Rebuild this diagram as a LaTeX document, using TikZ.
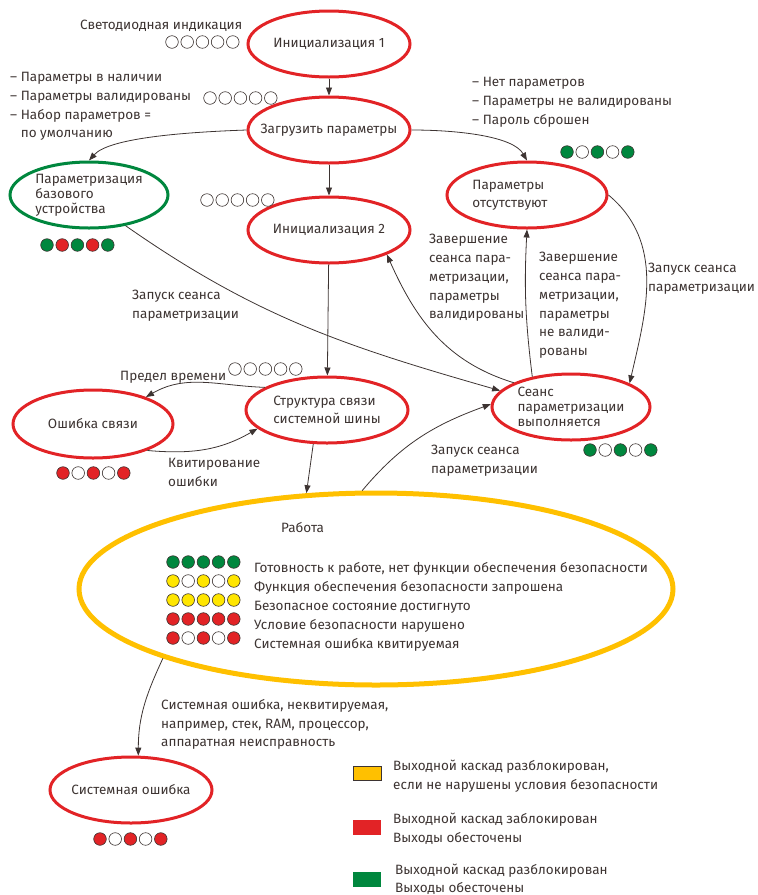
\documentclass[tikz,border=0pt]{standalone}
\usepackage{fontspec}
\setmainfont{Fira Sans}
\usetikzlibrary{shapes.geometric,arrows.meta}

\definecolor{txt}{RGB}{61,52,50}
\definecolor{stred}{RGB}{226,35,38}
\definecolor{stgreen}{RGB}{0,135,62}
\definecolor{styellow}{RGB}{255,192,0}
\definecolor{ledyellow}{RGB}{255,230,0}

\newcommand\ledrow[3]{%
  \foreach \col [count=\k from 0] in {#3}
    {\draw[led, fill=\col] (#1+\k*15.2, #2) circle (6.3pt);}%
}

\begin{document}
\begin{tikzpicture}[x=1pt, y=-1pt,
  stnode/.style={ellipse, draw=stred, line width=3pt, inner xsep=-12pt, inner ysep=0pt,
    minimum width=162pt, minimum height=66pt, text=txt, align=center,
    font=\fontsize{13.5}{15}\selectfont},
  twoline/.style={font=\fontsize{13.5}{18}\selectfont},
  lbl/.style={inner sep=0pt, text=txt, align=left, anchor=north west,
    font=\fontsize{13.5}{18.8}\selectfont},
  arr/.style={draw=txt, line width=0.8pt, -{Triangle[length=8pt,width=6pt]}},
  led/.style={draw=txt, line width=0.6pt}]

  \useasboundingbox (0,0) rectangle (758,895);

  \node[stnode, draw=styellow, line width=5pt, minimum width=594pt, minimum height=192pt] (work) at (376,589) {};

  \node[stnode] (init1) at (329,44) {Инициализация 1};
  \node[stnode] (load) at (329,130) {Загрузить параметры};
  \node[stnode] (init2) at (329,230) {Инициализация 2};
  \node[stnode, draw=stgreen, minimum width=158pt, align=left] (parbase) at (89,195) {Параметризация\\базового\\устройства};
  \node[stnode, minimum width=160pt,
    label={[twoline, text=txt, align=left, anchor=center, xshift=-17pt]center:{Параметры\\отсутствуют}}] (parabs) at (527,195) {};
  \node[stnode, minimum width=158pt, align=left] (session) at (571,407) {Сеанс\\параметризации\\выполняется};
  \node[stnode, minimum width=160pt, minimum height=68pt] (commerr) at (93,424) {Ошибка связи};
  \node[stnode, twoline, align=left] (bus) at (327,410) {Структура связи\\системной шины};
  \node[stnode] (syserr) at (131,790) {Системная ошибка};

  \ledrow{172}{42}{white,white,white,white,white}
  \ledrow{210}{98}{white,white,white,white,white}
  \ledrow{207}{200}{white,white,white,white,white}
  \ledrow{47}{245}{stgreen,stred,stgreen,stred,stgreen}
  \ledrow{567}{152}{stgreen,white,stgreen,white,stgreen}
  \ledrow{590}{450}{stgreen,white,stgreen,white,stgreen}
  \ledrow{235}{369}{white,white,white,white,white}
  \ledrow{63}{473}{stred,white,stred,white,stred}
  \ledrow{100}{839}{stred,white,stred,white,stred}

  \ledrow{173}{562}{stgreen,stgreen,stgreen,stgreen,stgreen}
  \ledrow{173}{581}{ledyellow,white,ledyellow,white,ledyellow}
  \ledrow{173}{600}{ledyellow,ledyellow,ledyellow,ledyellow,ledyellow}
  \ledrow{173}{619}{stred,stred,stred,stred,stred}
  \ledrow{173}{638}{stred,white,stred,white,stred}

  \node[lbl, anchor=base west] (ledlbl) at (80,29) {Светодиодная индикация};
  \node[lbl] (okpar) at (10,72) {– Параметры в наличии\\– Параметры валидированы\\– Набор параметров =\\\phantom{– }по умолчанию};
  \node[lbl] (nopar) at (472,77) {– Нет параметров\\– Параметры не валидированы\\– Пароль сброшен};
  \node[lbl] (endok) at (429,234) {Завершение\\сеанса пара-\\метризации,\\параметры\\валидированы};
  \node[lbl] (endnok) at (539,252) {Завершение\\сеанса пара-\\метризации,\\параметры\\не валиди-\\рованы};
  \node[lbl] (startr) at (648,263) {Запуск сеанса\\параметризации};
  \node[lbl] (startl) at (132,290) {Запуск сеанса\\параметризации};
  \node[lbl, anchor=base west] (timeout) at (120,380) {Предел времени};
  \node[lbl] (ack) at (168,458) {Квитирование\\ошибки};
  \node[lbl] (startb) at (431,445) {Запуск сеанса\\параметризации};

  \node[lbl, anchor=base west] (worklbl) at (281,532) {Работа};
  \node[lbl, anchor=base west] (row1) at (254,572) {Готовность к работе, нет функции обеспечения безопасности};
  \node[lbl, anchor=base west] (row2) at (254,591) {Функция обеспечения безопасности запрошена};
  \node[lbl, anchor=base west] (row3) at (254,610) {Безопасное состояние достигнуто};
  \node[lbl, anchor=base west] (row4) at (254,629) {Условие безопасности нарушено};
  \node[lbl, anchor=base west] (row5) at (254,648) {Системная ошибка квитируемая};

  \node[lbl] (fatal) at (161,699) {Системная ошибка, неквитируемая,\\например, стек, RAM, процессор,\\аппаратная неисправность};

  \draw[fill=styellow, draw=txt, line width=0.6pt] (353,766) rectangle (381,780);
  \fill[stred] (353,820) rectangle (381,835);
  \fill[stgreen] (353,872) rectangle (381,887);
  \node[lbl] (key1) at (393,760) {Выходной каскад разблокирован,\\если не нарушены условия безопасности};
  \node[lbl] (key2) at (393,813) {Выходной каскад заблокирован\\Выходы обесточены};
  \node[lbl, font=\fontsize{13.5}{17.5}\selectfont] (key3) at (395,864) {Выходной каскад разблокирован\\Выходы обесточены};

  \draw[arr] (init1) -- (load);
  \draw[arr] (load) -- (init2);
  \draw[arr] (init2) -- (bus);
  \draw[arr] (load.west) to[out=182, in=48, out looseness=0.9, in looseness=0.5] (parbase.north);
  \draw[arr] (load.east) to[out=0, in=120, in looseness=0.6] (parabs.north);
  \draw[arr] (parbase.-40) to[out=-35, in=164] (session.167);
  \draw[arr] (session.157) to[out=163, in=-66] (init2.-23);
  \draw[arr] (session.142) to[bend left=5] (parabs.south);
  \draw[arr] (parabs.east) to[out=-40, in=77] (session.22);
  \draw[arr] (bus.160) to[out=178, in=30] (commerr.27);
  \draw[arr] (commerr.-26) to[out=-5, in=-150] (bus.195);
  \draw[arr] (bus.-112) -- (work.126.5);
  \draw[arr] (work.98) to[out=50, in=-160] (session.178);
  \draw[arr] (work.-162) to[out=-115, in=90] (syserr.78);

\end{tikzpicture}
\end{document}
